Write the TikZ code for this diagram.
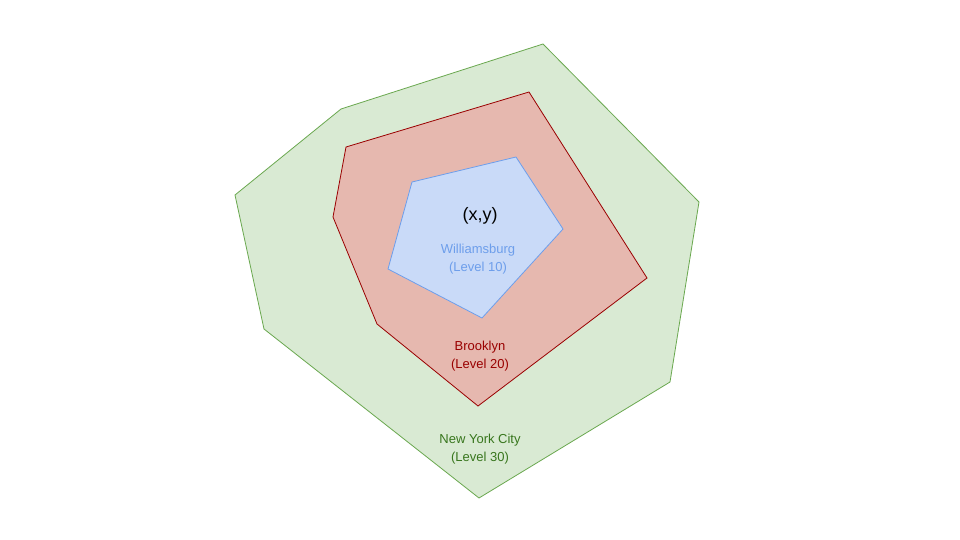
\documentclass[tikz,border=0pt]{standalone}
\usepackage{fontspec}
\setmainfont{Liberation Sans}
\definecolor{gfill}{HTML}{D9EAD3}
\definecolor{gline}{HTML}{6AA84F}
\definecolor{gtext}{HTML}{38761D}
\definecolor{rfill}{HTML}{E6B8AF}
\definecolor{rline}{HTML}{990000}
\definecolor{rtext}{HTML}{990000}
\definecolor{bfill}{HTML}{C9DAF8}
\definecolor{bline}{HTML}{6D9EEB}
\definecolor{btext}{HTML}{6D9EEB}
\tikzset{region/.style={line width=0.8pt, line join=miter},
  lbl/.style={align=center, font=\fontsize{13}{17.5}\selectfont, inner sep=0pt}}
\begin{document}
\begin{tikzpicture}[x=1pt,y=-1pt]
\useasboundingbox (0,0) rectangle (960,540);
\fill[white] (0,0) rectangle (960,540);
\draw[region, fill=gfill, draw=gline] (235,195) -- (341,109) -- (543,44) -- (699,202) -- (670,382) -- (479,498) -- (264,329) -- cycle;
\draw[region, fill=rfill, draw=rline] (346,147) -- (529,92) -- (647,278) -- (478,406) -- (377,324) -- (333,217) -- cycle;
\draw[region, fill=bfill, draw=bline] (412,182) -- (516,157) -- (563,229) -- (482,318) -- (388,269) -- cycle;
\node[inner sep=0pt, font=\fontsize{18}{21}\selectfont] (pt) at (480,216) {(x,y)};
\node[lbl, text=btext] (wb) at (478,259) {Williamsburg\\(Level 10)};
\node[lbl, text=rtext] (bk) at (480,356) {Brooklyn\\(Level 20)};
\node[lbl, text=gtext] (ny) at (480,449) {New York City\\(Level 30)};
\end{tikzpicture}
\end{document}
